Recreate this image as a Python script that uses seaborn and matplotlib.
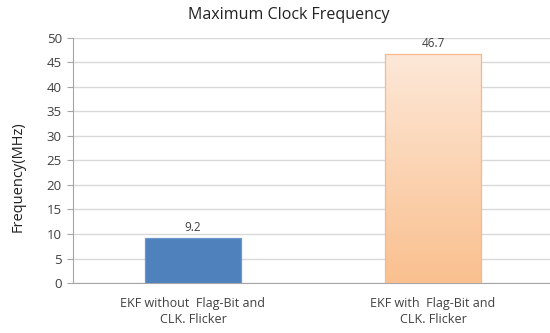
import numpy as np
import pandas as pd
import matplotlib
matplotlib.use("Agg")
import matplotlib.pyplot as plt
import seaborn as sns
from matplotlib.colors import LinearSegmentedColormap

categories = ["EKF without  Flag-Bit and\nCLK. Flicker", "EKF with  Flag-Bit and\nCLK. Flicker"]
frequency_mhz = [9.2, 46.7]
y_ticks = [0, 5, 10, 15, 20, 25, 30, 35, 40, 45, 50]

sns.set_theme(style="white")
plt.rcParams["font.family"] = ["Open Sans", "DejaVu Sans"]

fig = plt.figure(figsize=(5.5, 3.33), dpi=100)
ax = fig.add_axes([0.1327, 0.150, 0.8727, 0.7369])

df = pd.DataFrame({"config": categories, "freq": frequency_mhz})
sns.barplot(data=df, x="config", y="freq", hue="config",
            palette=["#4F81BD", "#FBC9A0"], width=0.4, legend=False,
            saturation=1, ax=ax, zorder=3)

# outline colours
edges = ["#6F97CB", "#F7B98A"]
for p, ec in zip(ax.patches, edges):
    p.set_edgecolor(ec)
    p.set_linewidth(0.9)

# vertical light-to-peach gradient on the second bar
bar = ax.patches[1]
x0, y0 = bar.get_x(), bar.get_y()
w, h = bar.get_width(), bar.get_height()
grad = LinearSegmentedColormap.from_list("peach", ["#FAC08F", "#FDE8D8"])
img = ax.imshow(np.linspace(0, 1, 256).reshape(-1, 1), cmap=grad,
                extent=[x0, x0 + w, y0, y0 + h], origin="lower",
                aspect="auto", zorder=3.5)
img.set_clip_path(bar)
bar.set_facecolor("none")
bar.set_zorder(4)

for i, v in enumerate(frequency_mhz):
    ax.annotate(f"{v}", xy=(i, v), xytext=(0, 3), textcoords="offset points",
                ha="center", va="bottom", fontsize=8.5, color="#404040")

ax.set_xlim(-0.5, 1.5)
ax.set_ylim(0, 50)
ax.set_yticks(y_ticks)
ax.yaxis.grid(True, color="#D9D9D9", linewidth=1.0, zorder=0)
ax.set_axisbelow(True)

ax.set_xticks([0, 1])
ax.set_xticklabels(categories, fontsize=9, color="#404040", linespacing=1.3)
ax.set_xticks([-0.5, 0.5, 1.5], minor=True)
ax.tick_params(axis="x", which="major", length=0, pad=10)
ax.tick_params(axis="x", which="minor", length=4, color="#A6A6A6", width=0.8)
ax.tick_params(axis="y", length=4, color="#A6A6A6", width=0.8,
               labelsize=9.5, labelcolor="#404040", pad=4, left=True)

for side in ["top", "right"]:
    ax.spines[side].set_visible(False)
for side in ["left", "bottom"]:
    ax.spines[side].set_color("#A6A6A6")
    ax.spines[side].set_linewidth(0.8)

ax.set_xlabel("")
ax.set_ylabel("")
fig.text(18 / 550, 1 - 177 / 333, "Frequency(MHz)", rotation=90,
         ha="center", va="center", fontsize=10.5, color="#222222")
fig.text(0.525, 1 - 15 / 333, "Maximum Clock Frequency", ha="center",
         va="center", fontsize=11.5, color="#222222")

fig.savefig("out.png", dpi=100, facecolor="white")
